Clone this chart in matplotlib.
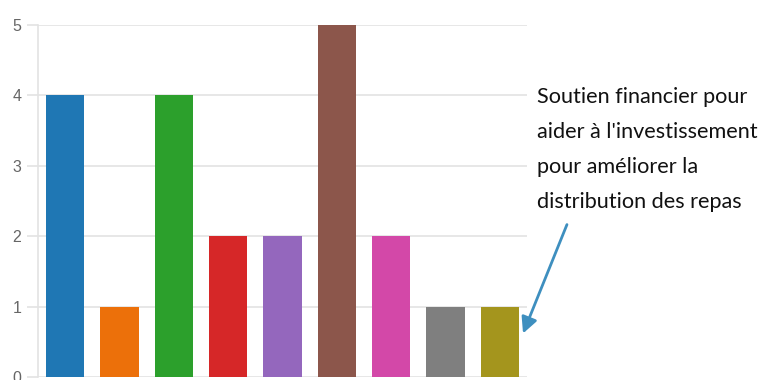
import matplotlib.pyplot as plt

# data
categories = ['A', 'B', 'C', 'D', 'E', 'F', 'G', 'H', 'I']
values = [4, 1, 4, 2, 2, 5, 2, 1, 1]
colors = ['#1f77b4', '#ec700a', '#2ca02c', '#d62728', '#9467bd',
          '#8c564b', '#d348a8', '#7f7f7f', '#a4951d']
y_ticks = [0, 1, 2, 3, 4, 5]
note = "Soutien financier pour\naider à l'investissement\npour améliorer la\ndistribution des repas"

fig = plt.figure(figsize=(7.63, 3.8), dpi=100)
ax = fig.add_axes([38 / 763, 3 / 380, 489 / 763, 352 / 380])

x = list(range(len(categories)))
ax.bar(x, values, width=0.71, color=colors, zorder=3)

ax.set_xlim(-0.5, len(categories) - 0.5)
ax.set_ylim(0, 5)
ax.set_yticks(y_ticks)
ax.set_xticks([])
ax.grid(axis='y', color='#e3e3e3', linewidth=1.2, zorder=0)
ax.tick_params(axis='y', length=8, color='#e3e3e3', width=1.2,
               labelsize=11.5, labelcolor='#666666', pad=4)
for lbl in ax.get_yticklabels():
    lbl.set_family('Liberation Sans')
for s in ['top', 'right', 'bottom']:
    ax.spines[s].set_visible(False)
ax.spines['left'].set_color('#e3e3e3')
ax.spines['left'].set_linewidth(1.2)

# annotation text and arrow pointing at the last bar
fig.text(537 / 763, (380 - 87) / 380, note, fontsize=15.6, family='Lato',
         color='#111111', ha='left', va='top', linespacing=1.93)
ax.annotate('', xy=(522, 380 - 336), xycoords='figure pixels',
            xytext=(568, 380 - 222), textcoords='figure pixels',
            arrowprops=dict(arrowstyle='-|>', color='#3e8fbf', lw=2,
                            mutation_scale=24))

fig.savefig('out.png', dpi=100)
